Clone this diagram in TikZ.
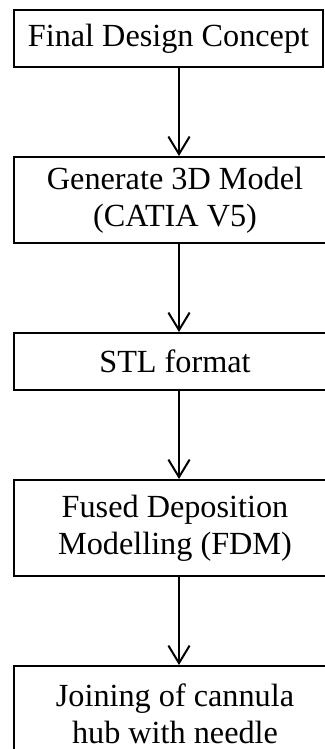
\documentclass[tikz,border=0pt]{standalone}
\usepackage{fontspec}
\setmainfont{Liberation Serif}
\usepackage{tikz}
\usetikzlibrary{arrows.meta,positioning}

\begin{document}
\begin{tikzpicture}[->,>={Straight Barb[length=7pt,width=8.5pt]},line width=0.8pt,node distance=35.2pt,font=\fontsize{12.9}{14.8}\selectfont]
\tikzstyle{stage}=[draw=black,text=black,align=center,inner sep=0pt,minimum width=128.8pt]
\useasboundingbox (0,0) rectangle (129.6pt,-299.6pt);
\node[stage,anchor=north west,minimum width=123.6pt,minimum height=22.8pt] (C) at (5.2pt,-3.6pt) {Final Design Concept};
\node[stage,minimum height=34.4pt][below right=35.2pt and 0pt of C.south west](M){Generate 3D Model\\(CATIA V5)};
\node[stage,minimum height=22.8pt][below right=35.2pt and 0pt of M.south west](S){STL format};
\node[stage,minimum height=38.4pt][below right=35.2pt and 0pt of S.south west](F){Fused Deposition\\Modelling (FDM)};
\node[stage,minimum height=38.4pt][below right=35.2pt and 0pt of F.south west](J){Joining of cannula\\hub with needle};
\foreach \a/\b in {C/M,M/S,S/F,F/J}
  \draw ([xshift=66.4pt]\a.south west) -- ([xshift=66.4pt]\b.north west);
\end{tikzpicture}
\end{document}
